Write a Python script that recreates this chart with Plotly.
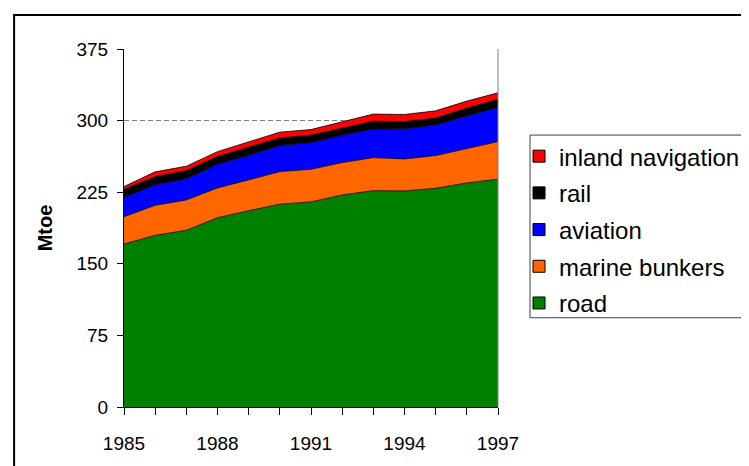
import plotly.graph_objects as go

years = list(range(1985, 1998))
road = [170.7, 179.8, 185.1, 198.3, 205.6, 212.4, 214.8, 222.1, 226.6, 226.3, 229.1, 234.7, 238.6]
marine_bunkers = [28.6, 31.5, 31.8, 31.2, 32.3, 34.2, 34.3, 33.9, 34.7, 33.6, 34.3, 36.4, 39.4]
aviation = [20.4, 21.6, 22.3, 24.8, 25.9, 27.2, 27.9, 28.8, 29.8, 31.5, 32.2, 33.9, 36.1]
rail = [8.4, 8.4, 8.4, 8.0, 8.4, 8.1, 7.8, 7.3, 8.3, 7.6, 7.0, 8.1, 8.2]
inland_navigation = [2.8, 5.0, 4.6, 5.2, 5.5, 6.0, 5.8, 6.9, 7.4, 7.4, 7.6, 7.3, 6.8]

series = [
    ("road", road, "#008000"),
    ("marine bunkers", marine_bunkers, "#FF6600"),
    ("aviation", aviation, "#0000FF"),
    ("rail", rail, "#000000"),
    ("inland navigation", inland_navigation, "#FF0000"),
]

x_ticks = [1985, 1988, 1991, 1994, 1997]
y_ticks = [0, 75, 150, 225, 300, 375]

FONT = "Liberation Sans, Arial, sans-serif"

fig = go.Figure()
for name, vals, col in series:
    fig.add_trace(go.Scatter(
        x=years, y=vals, name=name, stackgroup="one", mode="lines",
        line=dict(color="black", width=0.8), fillcolor=col,
        legendgroup=name, showlegend=False,
    ))
# legend entries (square swatches), top-to-bottom: inland navigation ... road
for name, vals, col in reversed(series):
    fig.add_trace(go.Bar(
        x=[None], y=[None], name=name, legendgroup=name, showlegend=True,
        marker=dict(color=col, line=dict(color="black", width=1)),
    ))

OFF = 8  # browser body margin
W, H = 749 - OFF + 20, 466 - OFF
L, R, T, B = 124.3 - OFF, 498.0 - OFF, 49.0 - OFF, 406.7 - OFF
pw, ph = R - L, B - T

def px(x):
    return (x - OFF - L) / pw

def py(y):
    return (B - (y - OFF)) / ph

fig.update_layout(
    width=W, height=H,
    margin=dict(l=L, r=W - R, t=T, b=H - B, autoexpand=False),
    paper_bgcolor="white", plot_bgcolor="white",
    font=dict(family=FONT, color="black", size=19),
    showlegend=True,
    legend=dict(
        x=px(519), y=py(134), xanchor="left", yanchor="top",
        traceorder="grouped", tracegroupgap=2.5,
        font=dict(size=24, family=FONT),
        borderwidth=0, bgcolor="rgba(0,0,0,0)",
    ),
    xaxis=dict(
        range=[1985, 1997], tickvals=x_ticks, ticktext=[str(v) for v in x_ticks],
        ticks="outside", ticklen=7, tickcolor="black", showgrid=False,
        showline=True, linecolor="black", linewidth=1, zeroline=False,
        minor=dict(dtick=1, tick0=1985, ticks="outside", ticklen=7, tickcolor="black", showgrid=False),
        tickfont=dict(size=19), ticklabelstandoff=12,
    ),
    yaxis=dict(
        range=[0, 375], tickvals=y_ticks, ticks="outside", ticklen=6, tickcolor="black",
        showgrid=True, gridcolor="#808080", gridwidth=1, griddash="5px,3px",
        showline=True, linecolor="black", linewidth=1, zeroline=False,
        tickfont=dict(size=19), ticklabelstandoff=5,
        title=dict(text="<b>Mtoe</b>", font=dict(size=20), standoff=18),
    ),
    shapes=[
        dict(type="line", xref="paper", yref="paper", x0=1, x1=1, y0=0, y1=1,
             line=dict(color="#808080", width=1)),
        dict(type="rect", xref="paper", yref="paper",
             x0=px(14.5), x1=px(800), y0=py(520), y1=py(15),
             line=dict(color="black", width=2), layer="below"),
        dict(type="rect", xref="paper", yref="paper",
             x0=px(530), x1=px(800), y0=py(317.5), y1=py(135),
             line=dict(color="#404040", width=1), fillcolor="white", layer="below"),
    ],
)

fig.write_html("out.html")
